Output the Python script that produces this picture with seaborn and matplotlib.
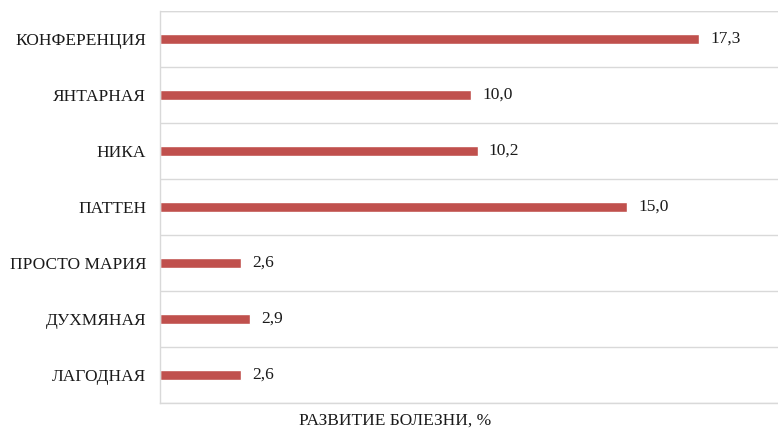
import matplotlib
matplotlib.use("Agg")
import matplotlib.pyplot as plt
import seaborn as sns
import pandas as pd
from matplotlib.ticker import MultipleLocator, NullFormatter

categories = ["КОНФЕРЕНЦИЯ", "ЯНТАРНАЯ", "НИКА", "ПАТТЕН", "ПРОСТО МАРИЯ", "ДУХМЯНАЯ", "ЛАГОДНАЯ"]
values = [17.3, 10.0, 10.2, 15.0, 2.6, 2.9, 2.6]
value_labels = ["17,3", "10,0", "10,2", "15,0", "2,6", "2,9", "2,6"]
xlabel = "РАЗВИТИЕ БОЛЕЗНИ, %"

df = pd.DataFrame({"cat": categories, "val": values})

sns.set_theme(style="white")
plt.rcParams["font.family"] = ["Liberation Serif", "DejaVu Serif"]

fig = plt.figure(figsize=(7.78, 4.30), dpi=100)
ax = fig.add_axes([160/778, 1 - 403/430, 618/778, 392/430])

sns.barplot(data=df, y="cat", x="val", orient="h", color="#C0504D",
            width=0.18, saturation=1, ax=ax)

ax.set_xlim(0, 19.84)
ax.set_ylim(len(categories) - 0.5, -0.5)
ax.set_xticks([])
ax.yaxis.set_minor_locator(MultipleLocator(1, offset=0.5))
ax.yaxis.set_minor_formatter(NullFormatter())
ax.grid(axis="y", which="minor", color="#D9D9D9", linewidth=1)
ax.tick_params(axis="y", which="both", length=0, labelsize=12.5, pad=10, colors="#1a1a1a")
ax.set_ylabel("")
ax.set_xlabel("")
for s in ["top", "right"]:
    ax.spines[s].set_visible(False)
for s in ["left", "bottom"]:
    ax.spines[s].set_color("#D9D9D9")
    ax.spines[s].set_linewidth(1)
ax.axhline(-0.5, color="#D9D9D9", linewidth=1)

for i, (v, t) in enumerate(zip(values, value_labels)):
    ax.annotate(t, (v, i), xytext=(8, 0), textcoords="offset points",
                va="center", ha="left", fontsize=12.5, color="#1a1a1a")

fig.text(395/778, 1 - 421/430, xlabel, ha="center", va="center", fontsize=12.5, color="#1a1a1a")

fig.savefig("out.png", dpi=100)
